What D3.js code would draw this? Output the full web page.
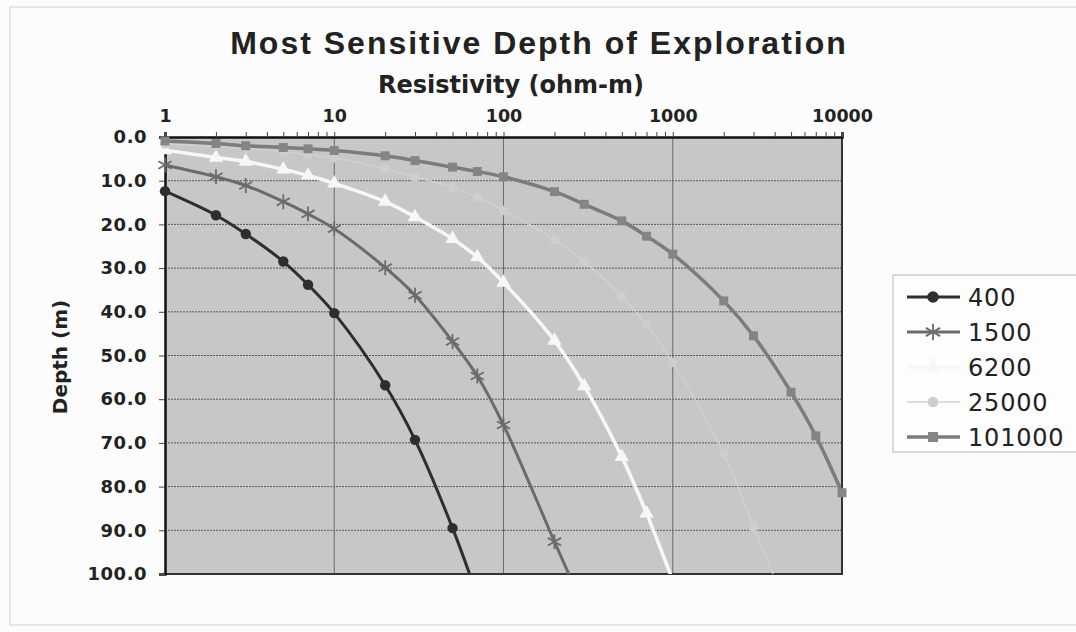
<!DOCTYPE html>
<html lang="en">
<head>
    <meta charset="UTF-8">
    <title>Most Sensitive Depth of Exploration</title>
    <script src="https://d3js.org/d3.v7.min.js"></script>
    <style>
        body {
            margin: 0;
            background-color: #fcfcfc;
            font-family: "DejaVu Sans", Arial, sans-serif;
        }
        svg { display: block; }
        .tick-label { font-weight: bold; fill: #222; }
        .legend-label { font-size: 24px; letter-spacing: 0.8px; fill: #222; }
    </style>
</head>
<body>
    <svg id="chart" width="1076" height="632"></svg>

    <script>
        // x values (resistivity, ohm-m) shared by all series
        const resistivity = [1, 2, 3, 5, 7, 10, 20, 30, 50, 70, 100, 200, 300, 500, 700, 1000, 2000, 3000, 5000, 7000, 10000];

        // depth (m) per series; beyond 100 m gets clipped
        const depth400 = [12.4, 17.9, 22.2, 28.5, 33.8, 40.3, 56.8, 69.3, 89.5, 105];
        const depth1500 = [6.4, 9.1, 11.1, 14.8, 17.6, 21.0, 29.9, 36.2, 46.8, 54.7, 65.9, 92.6, 108];
        const depth6200 = [3.0, 4.7, 5.6, 7.4, 8.8, 10.6, 14.8, 18.3, 23.3, 27.5, 33.3, 46.6, 57.0, 73.2, 86.1, 101.5];
        const depth25000 = [1.6, 2.2, 2.6, 3.4, 4.0, 4.8, 7.3, 9.2, 11.5, 13.8, 16.8, 23.5, 28.5, 36.5, 43.0, 51.6, 72.4, 89.2, 110];
        const depth101000 = [0.9, 1.5, 2.0, 2.4, 2.7, 3.1, 4.3, 5.4, 6.9, 7.9, 9.1, 12.5, 15.4, 19.2, 22.7, 26.8, 37.5, 45.5, 58.4, 68.4, 81.4];

        const seriesNames = ["400", "1500", "6200", "25000", "101000"];
        const xTicks = [1, 10, 100, 1000, 10000];
        const yTicks = [0, 10, 20, 30, 40, 50, 60, 70, 80, 90, 100];

        const series = [
            { name: seriesNames[0], depths: depth400, color: "#2e2e2e", width: 3, marker: "circle", fill: "#2e2e2e", size: 85 },
            { name: seriesNames[1], depths: depth1500, color: "#6b6b6b", width: 3, marker: "asterisk", fill: "#6b6b6b", size: 100 },
            { name: seriesNames[2], depths: depth6200, color: "#f7f7f7", width: 3.5, marker: "triangle", fill: "#f7f7f7", size: 90 },
            { name: seriesNames[3], depths: depth25000, color: "#d2d2d2", width: 1.3, marker: "circle", fill: "#cecece", size: 70 },
            { name: seriesNames[4], depths: depth101000, color: "#7c7c7c", width: 3.5, marker: "square", fill: "#858585", size: 80 }
        ];

        const margin = { left: 165, top: 137 };
        const plotW = 677;
        const plotH = 437;

        const svg = d3.select("#chart");

        // faint page border from the scan
        svg.append("rect")
            .attr("x", 10).attr("y", 7)
            .attr("width", 1090).attr("height", 618)
            .attr("fill", "none")
            .attr("stroke", "#d0d0d0");

        svg.append("text")
            .attr("x", 539).attr("y", 54)
            .attr("text-anchor", "middle")
            .style("font-family", "'Liberation Sans', Arial, sans-serif")
            .style("font-size", "32px").style("font-weight", "bold")
            .style("letter-spacing", "2px").style("fill", "#222")
            .text("Most Sensitive Depth of Exploration");

        svg.append("text")
            .attr("x", 511).attr("y", 93)
            .attr("text-anchor", "middle")
            .style("font-size", "24px").style("font-weight", "bold").style("fill", "#222")
            .text("Resistivity (ohm-m)");

        svg.append("text")
            .attr("transform", "translate(67,357) rotate(-90)")
            .attr("text-anchor", "middle")
            .style("font-size", "20px").style("font-weight", "bold").style("fill", "#222")
            .text("Depth (m)");

        const x = d3.scaleLog().domain([1, 10000]).range([0, plotW]);
        const y = d3.scaleLinear().domain([0, 100]).range([0, plotH]);

        const g = svg.append("g")
            .attr("transform", `translate(${margin.left},${margin.top})`);

        g.append("defs").append("clipPath")
            .attr("id", "plot-clip")
          .append("rect")
            .attr("x", -20).attr("y", -20)
            .attr("width", plotW + 40).attr("height", plotH + 20);

        g.append("rect")
            .attr("width", plotW).attr("height", plotH)
            .attr("fill", "#c7c7c7");

        // horizontal gridlines (dotted)
        g.selectAll(".hgrid")
            .data(yTicks.slice(1, -1))
            .enter().append("line")
            .attr("x1", 0).attr("x2", plotW)
            .attr("y1", d => y(d)).attr("y2", d => y(d))
            .attr("stroke", "#5a5a5a")
            .attr("stroke-width", 1)
            .attr("stroke-dasharray", "2,1");

        // vertical gridlines at decades
        g.selectAll(".vgrid")
            .data(xTicks.slice(1, -1))
            .enter().append("line")
            .attr("x1", d => x(d)).attr("x2", d => x(d))
            .attr("y1", 0).attr("y2", plotH)
            .attr("stroke", "#6a6a6a")
            .attr("stroke-width", 1);

        // frame: right and bottom
        g.append("path")
            .attr("d", `M${plotW},0V${plotH}H0`)
            .attr("fill", "none")
            .attr("stroke", "#333")
            .attr("stroke-width", 2);

        // top axis with minor ticks
        const topAxis = d3.axisTop(x)
            .tickValues(x.ticks())
            .tickSize(5)
            .tickFormat(d => xTicks.includes(d) ? d3.format("d")(d) : "");
        const ax = g.append("g").call(topAxis);
        ax.select(".domain").attr("stroke", "#111").attr("stroke-width", 2.5);
        ax.selectAll(".tick line").attr("stroke", "#444");
        ax.selectAll(".tick text")
            .attr("class", "tick-label")
            .attr("y", -15)
            .style("font-size", "17.5px")
            .style("font-family", "'DejaVu Sans', Arial, sans-serif");

        const leftAxis = d3.axisLeft(y)
            .tickValues(yTicks)
            .tickSize(6)
            .tickPadding(12)
            .tickFormat(d3.format(".1f"));
        const ay = g.append("g").call(leftAxis);
        ay.select(".domain").attr("stroke", "#111").attr("stroke-width", 2.5);
        ay.selectAll(".tick line").attr("stroke", "#444");
        ay.selectAll(".tick text")
            .attr("class", "tick-label")
            .style("font-size", "18px")
            .style("letter-spacing", "0.5px")
            .style("font-family", "'DejaVu Sans', Arial, sans-serif");

        const line = d3.line()
            .x(d => x(d[0]))
            .y(d => y(d[1]))
            .curve(d3.curveCatmullRom.alpha(0.5));

        function drawMarker(sel, s, size) {
            if (s.marker === "asterisk") {
                sel.append("path")
                    .attr("d", d3.symbol(d3.symbolAsterisk, size * 1.6)())
                    .attr("fill", "none")
                    .attr("stroke", s.fill)
                    .attr("stroke-width", 1.8);
            } else {
                const type = s.marker === "circle" ? d3.symbolCircle
                    : s.marker === "square" ? d3.symbolSquare : d3.symbolTriangle;
                sel.append("path")
                    .attr("d", d3.symbol(type, size)())
                    .attr("fill", s.fill);
            }
        }

        series.forEach(s => {
            const pts = s.depths.map((d, i) => [resistivity[i], d]);
            const sg = g.append("g").attr("clip-path", "url(#plot-clip)");
            sg.append("path")
                .datum(pts)
                .attr("d", line)
                .attr("fill", "none")
                .attr("stroke", s.color)
                .attr("stroke-width", s.width);
            sg.selectAll(".mk")
                .data(pts.filter(p => p[1] <= 100))
                .enter().append("g")
                .attr("transform", p => `translate(${x(p[0])},${y(p[1])})`)
                .each(function() { drawMarker(d3.select(this), s, s.size); });
        });

        // legend
        const legend = svg.append("g").attr("transform", "translate(893,275)");
        legend.append("rect")
            .attr("width", 200).attr("height", 177)
            .attr("fill", "#fdfdfd")
            .attr("stroke", "#b8b8b8");

        const rowY = d3.scalePoint().domain(seriesNames).range([22, 162]);
        series.forEach(s => {
            const row = legend.append("g").attr("transform", `translate(0,${rowY(s.name)})`);
            row.append("line")
                .attr("x1", 14).attr("x2", 67)
                .attr("stroke", s.color)
                .attr("stroke-width", s.width);
            const m = row.append("g").attr("transform", "translate(40,0)");
            drawMarker(m, s, s.size + 20);
            row.append("text")
                .attr("class", "legend-label")
                .attr("x", 75).attr("y", 9)
                .text(s.name);
        });
    </script>
</body>
</html>
